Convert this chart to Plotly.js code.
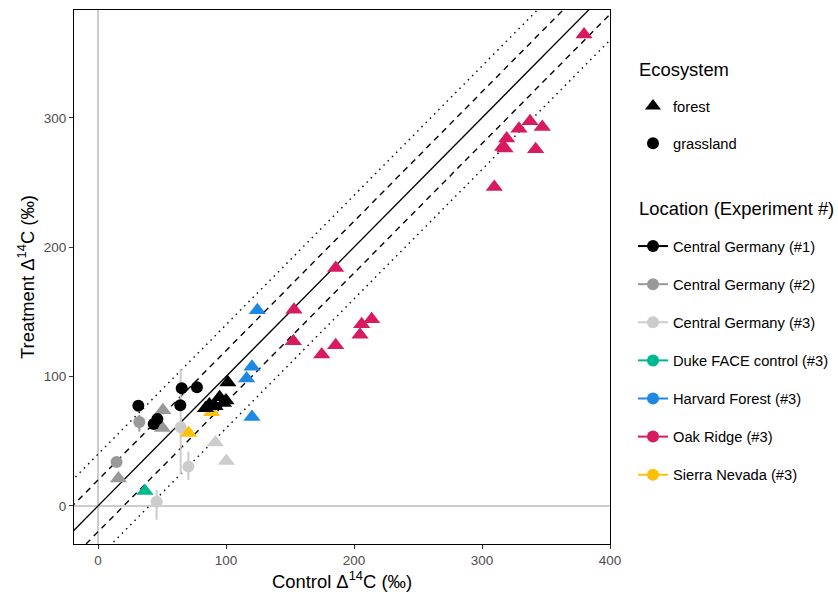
<!DOCTYPE html>
<html>
<head>
<meta charset="utf-8">
<script src="https://cdn.plot.ly/plotly-3.0.1.min.js"></script>
<style>html,body{margin:0;padding:0;background:#fff;}#chart{width:838px;height:596px;}</style>
</head>
<body>
<div id="chart"></div>
<script>
// ---- Data (Control vs Treatment Δ14C, ‰) ----
const cg1X   = [31.5, 65.4, 77.3, 64.3, 46.4, 43.5, 101.5, 87, 95, 98, 91.5, 84, 100];
const cg1Y   = [77.5, 90.9, 91.7, 77.8, 67.2, 63.4, 95.5, 78.5, 84, 79.5, 77, 75.5, 81.5];
const cg1Eco = ['g','g','g','g','g','g','f','f','f','f','f','f','f'];

const cg2X   = [32.3, 14.5, 50.7, 50.3, 16];
const cg2Y   = [64.8, 34, 74, 60.3, 21.2];
const cg2Eco = ['g','g','f','f','f'];
const cg2ErrP = [5.5, 0, 0, 0, 0];
const cg2ErrM = [7.4, 0, 0, 0, 0];

const cg3X   = [64.6, 70.6, 45.8, 91.7, 100.3];
const cg3Y   = [60.8, 30.4, 3.3, 49, 34.8];
const cg3Eco = ['g','g','g','f','f'];
const cg3ErrP = [45, 11.6, 9, 0, 0];
const cg3ErrM = [36, 10.3, 14, 0, 0];

const dukeX   = [36.7];
const dukeY   = [11.5];
const dukeEco = ['f'];

const harvX   = [120.3, 116.1, 120.3, 124.5];
const harvY   = [107.5, 98.5, 68.8, 151.3];
const harvEco = ['f','f','f','f'];

const oakX = [379.7, 337.5, 347.1, 328.9, 319.3, 316.1, 318, 341.9, 309.6, 185.7, 153.1, 152.6, 206, 213.8, 204.7, 185.7, 174.8];
const oakY = [364.3, 297.3, 292.9, 291.6, 283.9, 277.5, 276.2, 275.7, 246.6, 184, 151.7, 127.3, 140.5, 144.3, 132.4, 124.2, 117];
const oakEco = oakX.map(() => 'f');

const sierraX   = [70.8, 88.8];
const sierraY   = [56.3, 72.5];
const sierraEco = ['f','f'];

// reference lines: y = x + offset
const lineOffsets = [0, 20, -20, 40, -40];
const lineDash    = ['solid', '6px,5px', '6px,5px', '1.5px,4.5px', '1.5px,4.5px'];

const locations = ['Central Germany (#1)', 'Central Germany (#2)', 'Central Germany (#3)',
                   'Duke FACE control (#3)', 'Harvard Forest (#3)', 'Oak Ridge (#3)', 'Sierra Nevada (#3)'];
const locColors = ['#000000', '#999999', '#CCCCCC', '#00B890', '#1E88E5', '#D81B60', '#FFC107'];
const ecoNames  = ['forest', 'grassland'];
const ecoSymbols = {f: 'triangle-up', g: 'circle'};

const xRange = [-18.75, 400];
const yRange = [-29.4, 383.3];

const FONT = '"Liberation Sans", Arial, Helvetica, sans-serif';
const TRI = 15, CIR = 12;
const traces = [];

// reference lines
lineOffsets.forEach((off, i) => {
  const lx = [-100, 500];
  traces.push({
    x: lx, y: lx.map(v => v + off), mode: 'lines', type: 'scatter',
    line: {color: '#000', width: i === 0 ? 1.3 : 1.4, dash: lineDash[i]},
    hoverinfo: 'skip', showlegend: false
  });
});

function dataTrace(x, y, eco, color, errP, errM) {
  const t = {
    x: x, y: y, type: 'scatter', mode: 'markers', showlegend: false,
    marker: {
      color: color, opacity: 1,
      symbol: eco.map(e => ecoSymbols[e]),
      size: eco.map(e => e === 'f' ? TRI : CIR),
      line: {width: 0}
    },
    cliponaxis: false
  };
  if (errP) {
    t.error_y = {type: 'data', symmetric: false, array: errP, arrayminus: errM,
                 color: color, thickness: 2, width: 0};
  }
  return t;
}

// draw order
traces.push(dataTrace(cg3X, cg3Y, cg3Eco, locColors[2], cg3ErrP, cg3ErrM));
traces.push(dataTrace(cg2X, cg2Y, cg2Eco, locColors[1], cg2ErrP, cg2ErrM));
traces.push(dataTrace(dukeX, dukeY, dukeEco, locColors[3]));
traces.push(dataTrace(harvX, harvY, harvEco, locColors[4]));
traces.push(dataTrace(oakX, oakY, oakEco, locColors[5]));
traces.push(dataTrace(sierraX, sierraY, sierraEco, locColors[6]));
traces.push(dataTrace(cg1X, cg1Y, cg1Eco, locColors[0]));

// legend: Ecosystem
ecoNames.forEach((n, i) => {
  traces.push({
    x: [null], y: [null], type: 'scatter', mode: 'markers', name: n,
    legend: 'legend', legendgroup: 'eco' + i,
    marker: {color: '#000', opacity: 1, symbol: i === 0 ? 'triangle-up' : 'circle', size: i === 0 ? 14 : 12},
    showlegend: true
  });
});
// legend: Location
locations.forEach((n, i) => {
  traces.push({
    x: [null], y: [null], type: 'scatter', mode: 'lines+markers', name: n,
    legend: 'legend2', legendgroup: 'loc' + i,
    line: {color: locColors[i], width: 2},
    marker: {color: locColors[i], opacity: 1, symbol: 'circle', size: 12},
    showlegend: true
  });
});

const legendBase = {
  xref: 'container', yref: 'container',
  xanchor: 'left', yanchor: 'top',
  font: {family: FONT, size: 14.7, color: '#000'},
  traceorder: 'grouped',
  bgcolor: 'rgba(0,0,0,0)', borderwidth: 0, itemclick: false, itemdoubleclick: false
};

const layout = {
  width: 838, height: 596,
  margin: {l: 74, r: 228, t: 10, b: 52},
  paper_bgcolor: '#fff', plot_bgcolor: '#fff',
  font: {family: FONT, color: '#000'},
  showlegend: true,
  xaxis: {
    range: xRange, autorange: false,
    tickvals: [0, 100, 200, 300, 400], ticktext: ['0', '100', '200', '300', '400'],
    ticks: 'outside', ticklen: 4, tickcolor: '#333', tickwidth: 1,
    tickfont: {family: FONT, size: 13.5, color: '#4D4D4D'},
    showgrid: false,
    zeroline: true, zerolinecolor: '#CCCCCC', zerolinewidth: 2,
    showline: true, linecolor: '#000', linewidth: 1, mirror: true,
    title: {text: 'Control Δ<sup>14</sup>C (‰)', font: {family: FONT, size: 18.4, color: '#000'}, standoff: 6},
    automargin: false
  },
  yaxis: {
    range: yRange, autorange: false,
    tickvals: [0, 100, 200, 300], ticktext: ['0', '100', '200', '300'],
    ticks: 'outside', ticklen: 4, tickcolor: '#333', tickwidth: 1,
    tickfont: {family: FONT, size: 13.5, color: '#4D4D4D'},
    showgrid: false,
    zeroline: true, zerolinecolor: '#CCCCCC', zerolinewidth: 2,
    showline: true, linecolor: '#000', linewidth: 1, mirror: true,
    title: {text: 'Treatment Δ<sup>14</sup>C (‰)', font: {family: FONT, size: 18.4, color: '#000'}, standoff: 4},
    automargin: false
  },
  legend: Object.assign({}, legendBase, {x: 633 / 838, y: (596 - 90) / 596, tracegroupgap: 15}),
  legend2: Object.assign({}, legendBase, {x: 633 / 838, y: (596 - 230) / 596, tracegroupgap: 16}),
  annotations: [
    {text: 'Ecosystem', xref: 'paper', yref: 'paper', x: (637 - 74) / 536, y: (544 - 69) / 534,
     xanchor: 'left', yanchor: 'middle', showarrow: false,
     font: {family: FONT, size: 18.4, color: '#000'}},
    {text: 'Location (Experiment #)', xref: 'paper', yref: 'paper', x: (637 - 74) / 536, y: (544 - 208) / 534,
     xanchor: 'left', yanchor: 'middle', showarrow: false,
     font: {family: FONT, size: 18.4, color: '#000'}}
  ]
};

Plotly.newPlot('chart', traces, layout, {displayModeBar: false, staticPlot: true});
</script>
</body>
</html>
